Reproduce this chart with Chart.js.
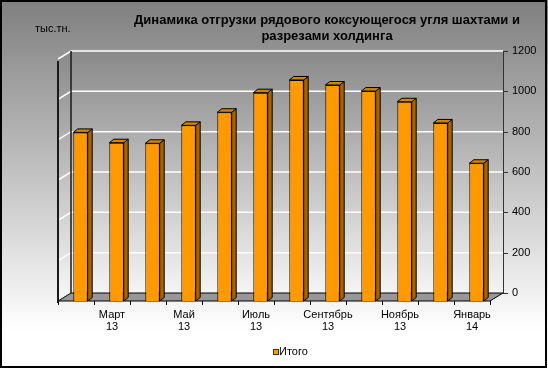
<!DOCTYPE html>
<html>
<head>
<meta charset="utf-8">
<script src="https://cdn.jsdelivr.net/npm/chart.js@4.4.1/dist/chart.umd.min.js"></script>
<style>
  body { margin: 0; background: #fff; }
  #wrap { width: 548px; height: 368px; }
</style>
</head>
<body>
<div id="wrap"><canvas id="shipChart"></canvas></div>
<script>
const months = ["Февраль", "Март", "Апрель", "Май", "Июнь", "Июль", "Август", "Сентябрь", "Октябрь", "Ноябрь", "Декабрь", "Январь"];
const years = ["13", "13", "13", "13", "13", "13", "13", "13", "13", "13", "13", "14"];
const totals = [836, 785, 782, 871, 936, 1033, 1096, 1071, 1041, 988, 883, 683];
const seriesName = "Итого";
const titleLines = ["Динамика отгрузки рядового коксующегося угля шахтами и", "разрезами холдинга"];
const unitLabel = "тыс.тн.";

const FONT = "'Liberation Sans', Arial, sans-serif";
const DX = 13, DY = 8;      // wall depth
const BX = 4.5, BY = 3.5;   // bar depth
const SHIFT = 4.5;          // bars sit a bit behind the front edge

const chart3d = {
  id: "chart3d",
  beforeDraw(chart) {
    const ctx = chart.ctx;
    const g = ctx.createLinearGradient(0, 0, 0, chart.height);
    g.addColorStop(0, "#7f7f7f");
    g.addColorStop(0.9, "#ffffff");
    ctx.save();
    ctx.fillStyle = g;
    ctx.fillRect(0, 0, chart.width, chart.height);
    ctx.strokeStyle = "#000";
    ctx.lineWidth = 2;
    ctx.strokeRect(1, 1, chart.width - 3, chart.height - 2);
    ctx.restore();
  },
  beforeDatasetsDraw(chart) {
    const ctx = chart.ctx;
    const a = chart.chartArea;
    const x = chart.scales.x, y = chart.scales.y;
    const top = y.getPixelForValue(y.max), bot = y.getPixelForValue(0);

    ctx.save();
    const wg = ctx.createLinearGradient(0, top - DY, 0, bot);
    wg.addColorStop(0, "#898989");
    wg.addColorStop(1, "#f8f8f8");
    ctx.fillStyle = wg;
    // left wall
    ctx.beginPath();
    ctx.moveTo(a.left, top);
    ctx.lineTo(a.left + DX, top - DY);
    ctx.lineTo(a.left + DX, bot - DY);
    ctx.lineTo(a.left, bot);
    ctx.closePath();
    ctx.fill();
    // back wall
    ctx.fillRect(a.left + DX, top - DY, a.right - a.left, bot - top);

    // grid lines
    ctx.strokeStyle = "#ffffff";
    ctx.lineWidth = 1.5;
    y.ticks.forEach(t => {
      const py = y.getPixelForValue(t.value);
      ctx.beginPath();
      ctx.moveTo(a.left, py);
      ctx.lineTo(a.left + DX, py - DY);
      ctx.lineTo(a.right + DX, py - DY);
      ctx.stroke();
    });

    // floor
    ctx.fillStyle = "#979797";
    ctx.strokeStyle = "#000";
    ctx.lineWidth = 1;
    ctx.beginPath();
    ctx.moveTo(a.left, bot);
    ctx.lineTo(a.right, bot);
    ctx.lineTo(a.right + DX, bot - DY);
    ctx.lineTo(a.left + DX, bot - DY);
    ctx.closePath();
    ctx.fill();
    ctx.stroke();

    // wall edges
    ctx.strokeStyle = "#1a1a1a";
    ctx.lineWidth = 2;
    ctx.beginPath();
    ctx.moveTo(a.left, top + 2);
    ctx.lineTo(a.left, bot + 2);
    ctx.stroke();
    ctx.lineWidth = 1.5;
    ctx.beginPath();
    ctx.moveTo(a.left + DX, top - DY);
    ctx.lineTo(a.left + DX, bot - DY);
    ctx.stroke();

    // right value axis
    ctx.strokeStyle = "#333";
    ctx.lineWidth = 1;
    ctx.beginPath();
    ctx.moveTo(a.right + DX + 0.5, top - DY);
    ctx.lineTo(a.right + DX + 0.5, bot - DY);
    y.ticks.forEach(t => {
      const py = Math.round(y.getPixelForValue(t.value) - DY) + 0.5;
      ctx.moveTo(a.right + DX, py);
      ctx.lineTo(a.right + DX + 5, py);
    });
    ctx.stroke();

    // category ticks
    const step = x.getPixelForValue(1) - x.getPixelForValue(0);
    ctx.strokeStyle = "#000";
    ctx.beginPath();
    for (let i = 0; i <= months.length; i++) {
      const px = Math.round(x.getPixelForValue(i) - step / 2) + 0.5;
      ctx.moveTo(px, bot);
      ctx.lineTo(px, bot + 4);
    }
    ctx.stroke();

    // title and unit
    ctx.fillStyle = "#000";
    ctx.textAlign = "center";
    ctx.textBaseline = "alphabetic";
    ctx.font = "bold 13px " + FONT;
    ctx.fillText(titleLines[0], 327, 24);
    ctx.fillText(titleLines[1], 327, 40);
    ctx.font = "11px " + FONT;
    ctx.textAlign = "left";
    ctx.fillText(unitLabel, 35, 32);

    // legend
    ctx.fillStyle = "#ffffff";
    ctx.fillRect(213, 337, 149, 28);
    ctx.fillStyle = "#ff9900";
    ctx.fillRect(273, 349, 5, 5);
    ctx.strokeStyle = "#333";
    ctx.lineWidth = 1;
    ctx.strokeRect(273.5, 349.5, 5, 5);
    ctx.fillStyle = "#000";
    ctx.font = "11px " + FONT;
    ctx.textBaseline = "middle";
    ctx.fillText(seriesName, 279, 352);
    ctx.restore();

    ctx.save();
    ctx.translate(SHIFT, 0);
  },
  afterDatasetsDraw(chart) {
    const ctx = chart.ctx;
    const meta = chart.getDatasetMeta(0);
    ctx.lineWidth = 1;
    ctx.strokeStyle = "#000";
    meta.data.forEach(bar => {
      const p = bar.getProps(["x", "y", "base", "width"], true);
      const l = p.x - p.width / 2, r = p.x + p.width / 2;
      // side face
      ctx.fillStyle = "#a86300";
      ctx.beginPath();
      ctx.moveTo(r, p.y);
      ctx.lineTo(r + BX, p.y - BY);
      ctx.lineTo(r + BX, p.base - BY);
      ctx.lineTo(r, p.base);
      ctx.closePath();
      ctx.fill();
      ctx.stroke();
      // top face
      ctx.fillStyle = "#d58300";
      ctx.beginPath();
      ctx.moveTo(l, p.y);
      ctx.lineTo(l + BX, p.y - BY);
      ctx.lineTo(r + BX, p.y - BY);
      ctx.lineTo(r, p.y);
      ctx.closePath();
      ctx.fill();
      ctx.stroke();
    });
    ctx.restore();
  }
};

new Chart(document.getElementById("shipChart"), {
  type: "bar",
  data: {
    labels: months,
    datasets: [{
      label: seriesName,
      data: totals,
      backgroundColor: "#ff9900",
      borderColor: "#000",
      borderWidth: 1,
      barPercentage: 0.4,
      categoryPercentage: 1,
      clip: false
    }]
  },
  options: {
    responsive: true,
    maintainAspectRatio: false,
    animation: false,
    devicePixelRatio: 1,
    layout: { padding: { top: 59, left: 58, right: 0, bottom: 0 } },
    plugins: {
      legend: { display: false },
      title: { display: false },
      tooltip: { enabled: false }
    },
    scales: {
      x: {
        grid: { display: false, drawTicks: false },
        border: { display: false },
        afterFit: s => { s.height = 67; },
        ticks: {
          autoSkip: false,
          maxRotation: 0,
          padding: 8,
          color: "#000",
          font: { family: FONT, size: 11, lineHeight: 1.1 },
          callback: (v, i) => (i % 2 === 1 ? [months[i], years[i]] : "")
        }
      },
      y: {
        position: "right",
        min: 0,
        max: 1200,
        grid: { display: false, drawTicks: false },
        border: { display: false },
        afterFit: s => { s.width = 58; },
        ticks: {
          stepSize: 200,
          padding: 22,
          labelOffset: -8,
          color: "#000",
          font: { family: FONT, size: 11 },
          callback: v => String(v)
        }
      }
    }
  },
  plugins: [chart3d]
});
</script>
</body>
</html>
